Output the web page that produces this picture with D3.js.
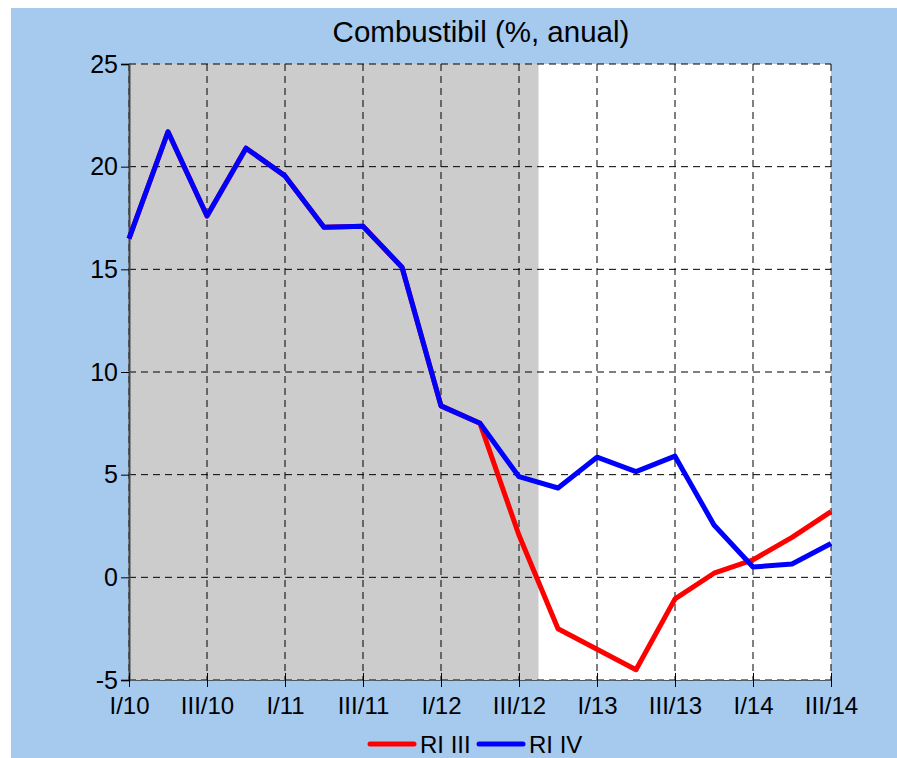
<!DOCTYPE html>
<html>
<head>
<meta charset="utf-8">
<script src="https://cdn.jsdelivr.net/npm/d3@7"></script>
<style>
  body { margin: 0; background: #fff; }
  svg { display: block; font-family: "Liberation Sans", Arial, sans-serif; }
</style>
</head>
<body>
<svg width="897" height="758"></svg>
<script>
// quarters I/10 .. III/14
let quarters = ["I/10", "II/10", "III/10", "IV/10", "I/11", "II/11", "III/11", "IV/11",
    "I/12", "II/12", "III/12", "IV/12", "I/13", "II/13", "III/13", "IV/13",
    "I/14", "II/14", "III/14"];
let tickLabels = ["I/10", "III/10", "I/11", "III/11", "I/12", "III/12", "I/13", "III/13", "I/14", "III/14"];
let yTicks = [-5, 0, 5, 10, 15, 20, 25];

let riIII = [16.5, 21.7, 17.6, 20.9, 19.55, 17.05, 17.1, 15.1, 8.35, 7.5,
    2.05, -2.5, -3.5, -4.5, -1.05, 0.2, 0.85, 1.95, 3.2];
let riIV = [16.5, 21.7, 17.6, 20.9, 19.55, 17.05, 17.1, 15.1, 8.35, 7.5,
    4.9, 4.35, 5.85, 5.15, 5.9, 2.55, 0.5, 0.65, 1.65];
let historyEnd = 10.5; // shaded area ends between III/12 and IV/12

let svg = d3.select("svg"),
    margin = {top: 64, right: 66, bottom: 78, left: 129},
    width = +svg.attr("width") - margin.left - margin.right,
    height = +svg.attr("height") - margin.top - margin.bottom;

svg.append("rect")
    .attr("x", 11).attr("y", 8)
    .attr("width", 886).attr("height", 750)
    .attr("fill", "#a6c9ee");

let g = svg.append("g").attr("transform", "translate(" + margin.left + "," + margin.top + ")");

let x = d3.scaleLinear().domain([0, quarters.length - 1]).range([0, width]);
let y = d3.scaleLinear().domain([-5, 25]).range([height, 0]);

g.append("rect")
    .attr("width", width).attr("height", height)
    .attr("fill", "#ffffff");
g.append("rect")
    .attr("width", x(historyEnd)).attr("height", height)
    .attr("fill", "#cccccc");

// grid
g.selectAll(".hgrid")
    .data(yTicks)
    .enter().append("line")
    .attr("x1", 0).attr("x2", width)
    .attr("y1", d => y(d)).attr("y2", d => y(d))
    .attr("stroke", "#000").attr("stroke-width", 1)
    .attr("stroke-dasharray", "7,5");
g.selectAll(".vgrid")
    .data(tickLabels)
    .enter().append("line")
    .attr("x1", d => x(quarters.indexOf(d))).attr("x2", d => x(quarters.indexOf(d)))
    .attr("y1", 0).attr("y2", height)
    .attr("stroke", "#000").attr("stroke-width", 1)
    .attr("stroke-dasharray", "7,5");

// axes
let yAxis = d3.axisLeft(y).tickValues(yTicks).tickSize(8).tickPadding(3)
    .tickFormat(d => String(d));
let xAxis = d3.axisBottom(x)
    .tickValues(tickLabels.map(d => quarters.indexOf(d)))
    .tickFormat(d => quarters[d])
    .tickSize(7).tickPadding(10);

let ya = g.append("g").call(yAxis);
ya.select(".domain").attr("stroke", "#444").attr("stroke-width", 2);
ya.selectAll("text").attr("font-size", 25).attr("fill", "#000")
    .attr("font-family", "Liberation Sans, Arial, sans-serif");

let xa = g.append("g").attr("transform", "translate(0," + height + ")").call(xAxis);
xa.select(".domain").attr("stroke", "#555").attr("stroke-dasharray", "7,5");
xa.selectAll(".tick line").attr("y1", -7);
xa.selectAll("text").attr("font-size", 24).attr("fill", "#000")
    .attr("font-family", "Liberation Sans, Arial, sans-serif");

// lines
let line = d3.line()
    .x((d, i) => x(i))
    .y(d => y(d));

g.append("path")
    .attr("fill", "none")
    .attr("stroke", "#ff0000")
    .attr("stroke-width", 5)
    .attr("stroke-linejoin", "round")
    .attr("d", line(riIII));

g.append("path")
    .attr("fill", "none")
    .attr("stroke", "#0000ff")
    .attr("stroke-width", 5)
    .attr("stroke-linejoin", "round")
    .attr("d", line(riIV));

// title
svg.append("text")
    .attr("x", 481).attr("y", 42)
    .attr("text-anchor", "middle")
    .attr("font-size", 29.5)
    .attr("fill", "#000")
    .text("Combustibil (%, anual)");

// legend
let legend = [{name: "RI III", color: "#ff0000", x: 368}, {name: "RI IV", color: "#0000ff", x: 477}];
let lg = svg.selectAll(".legend").data(legend).enter().append("g")
    .attr("transform", d => "translate(" + d.x + ",744)");
lg.append("line")
    .attr("x1", 2).attr("x2", 46)
    .attr("stroke", d => d.color)
    .attr("stroke-width", 5)
    .attr("stroke-linecap", "round");
lg.append("text")
    .attr("x", 52).attr("y", 9)
    .attr("font-size", 24)
    .attr("fill", "#000")
    .text(d => d.name);
</script>
</body>
</html>
